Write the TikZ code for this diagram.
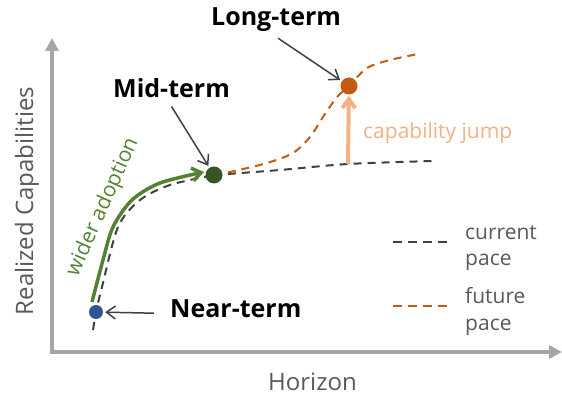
\documentclass[tikz,border=0pt]{standalone}
\usepackage{fontspec}
\setmainfont{Open Sans}
\usetikzlibrary{arrows.meta,positioning}
\definecolor{axisgray}{HTML}{A6A6A6}
\definecolor{txtgray}{HTML}{595959}
\definecolor{pointgray}{HTML}{404040}
\definecolor{nearblue}{HTML}{2F5597}
\definecolor{midgreen}{HTML}{375623}
\definecolor{adoptgreen}{HTML}{548235}
\definecolor{futureorange}{HTML}{C55A11}
\definecolor{jumporange}{HTML}{F4B183}
\tikzset{
    %Define standard arrow tip
    >={Straight Barb[length=9pt,width=13pt]},
    %Define style for the dots on the curves
    dot/.style={
           circle,
           inner sep=0pt,
           minimum size=17pt},
    %Define style for the labels
    termlbl/.style={
           font=\fontsize{25}{30}\bfseries\selectfont,
           inner sep=0pt},
    axislbl/.style={
           font=\fontsize{24}{28}\selectfont,
           text=txtgray,
           inner sep=0pt},
    legendlbl/.style={
           font=\fontsize{21}{26}\selectfont,
           text=txtgray,
           align=left,
           inner sep=0pt},
    % Define arrow styles
    axis/.style={
           draw=axisgray,
           line width=4pt,
           -{Triangle[length=13pt,width=13pt]}},
    pointer/.style={
           ->,
           draw=pointgray,
           line width=1.5pt,
           shorten >=2pt},
    pace/.style={
           line width=2pt,
           dash pattern=on 8pt off 6pt},
}

\begin{document}
\begin{tikzpicture}[x=1pt,y=-1pt]
\useasboundingbox (0,0) rectangle (562,395);

% axes
\coordinate (origin) at (52,352);
\coordinate (ytop) at (52,38);
\coordinate (xend) at (562,352);
\draw[axis] (origin) -- (ytop);
\draw[axis] ([xshift=-2pt]origin) -- (xend);
\node[axislbl, anchor=base west] (xlbl) at (268,390) {Horizon};
\node[axislbl, rotate=90, anchor=base] (ylbl) at (33,201) {Realized Capabilities};

% points on the curves
\coordinate (n) at (96,312);
\coordinate (m) at (214,175);
\coordinate (l) at (349,86);
\coordinate (j) at (348,164);

% current pace
\draw[pace, pointgray] plot[smooth] coordinates {(93,330) (n) (102,287) (118,227)
  (140,200) (170,185) (m)};
\draw[pace, pointgray] plot[smooth] coordinates {(m) (280,170) (j) (433,161)};
% future pace
\draw[pace, futureorange] plot[smooth] coordinates {(m) (230,172) (267,163) (293,153)
  (310,137) (323,117) (337,97) (l) (367,68) (390,60) (418,54)};
% wider adoption
\draw[->, adoptgreen, line width=3.5pt] plot[smooth] coordinates {(92,302) (103,260)
  (113,227) (132,200) (160,183) (204,172)};
\node[legendlbl, text=adoptgreen, rotate=66] (adopt) at (103,207) {wider adoption};

% capability jump
\node[dot, minimum size=17pt, fill=futureorange] (long) at (l) {};
\draw[->, jumporange, line width=4pt, shorten >=1pt] (j) -- (long);
\node[legendlbl, text=jumporange, anchor=base west] (jump) at (363,139) {capability jump};

\node[dot, minimum size=14pt, fill=nearblue] (near) at (n) {};
\node[dot, fill=midgreen] (mid) at (m) {};

\node[termlbl, anchor=base west] (nearlbl) at (170,317) {Near-term};
\node[termlbl, anchor=base west] (midlbl) at (113,98) {Mid-term};
\node[termlbl, anchor=base west] (longlbl) at (211,26) {Long-term};

\draw[pointer] ([xshift=-16pt,yshift=-5pt]nearlbl.west) -- (near);
\draw[pointer] ([yshift=-8pt]midlbl.south) -- (mid);
\draw[pointer] ([xshift=2pt,yshift=-6pt]longlbl.south) -- (long);

% legend
\coordinate (cur1) at (393,242);
\coordinate (cur2) at (447,242);
\coordinate (fut1) at (393,306);
\coordinate (fut2) at (447,306);
\draw[pace, pointgray, dash pattern=on 9pt off 6pt] (cur1) -- (cur2);
\draw[pace, futureorange, dash pattern=on 9pt off 6pt] (fut1) -- (fut2);
\node[legendlbl, anchor=base west] (curlbl) at (465,266) {current\\pace};
\node[legendlbl, anchor=base west] (futlbl) at (465,330) {future\\pace};
\end{tikzpicture}
\end{document}
